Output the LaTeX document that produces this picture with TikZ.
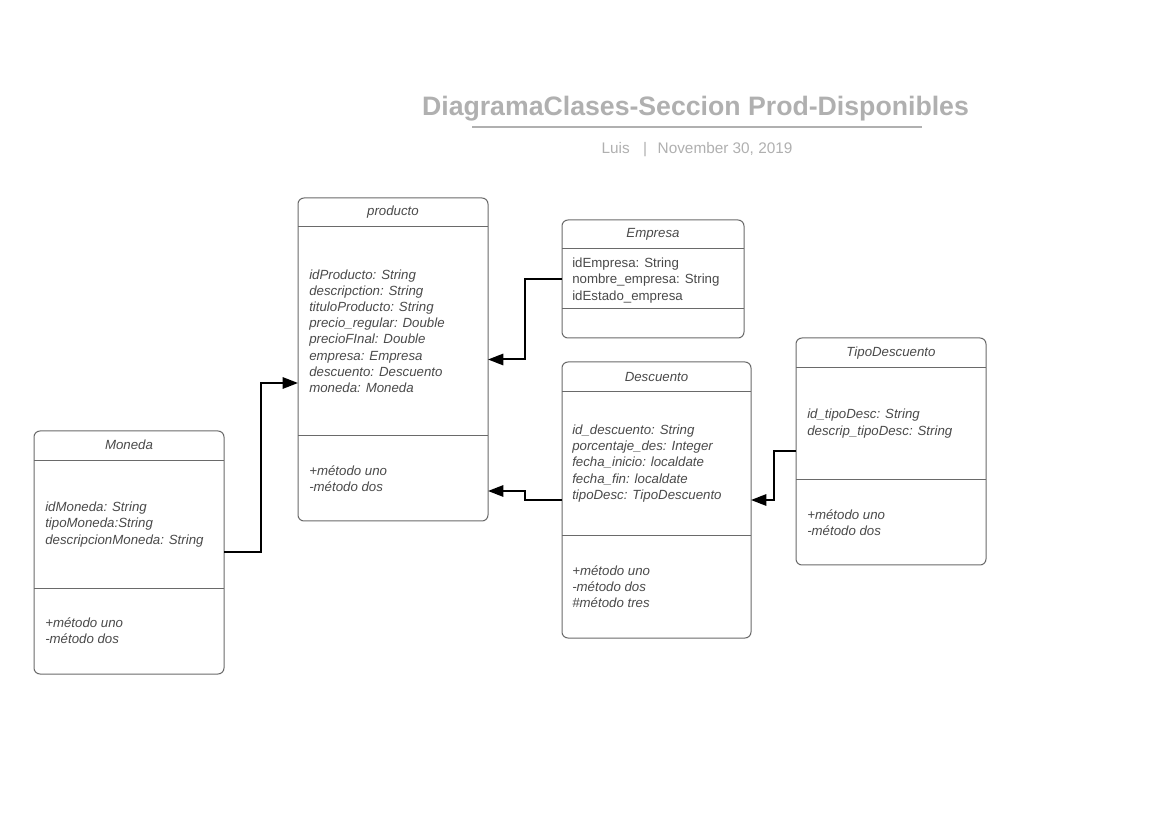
\documentclass[tikz,border=0pt]{standalone}
\usepackage{fontspec}
\setmainfont{Liberation Sans}
\usetikzlibrary{arrows.meta,calc}
\definecolor{boxline}{HTML}{6A6A6A}
\definecolor{txt}{HTML}{4A4A4A}
\definecolor{ttl}{HTML}{B0B0B0}
\tikzset{
  umlbox/.style={draw=boxline, line width=0.75pt, rounded corners=4.5pt, anchor=north west, inner sep=0pt, outer sep=0pt},
  divider/.style={draw=boxline, line width=0.75pt},
  cname/.style={font=\fontsize{9.95}{12.15}\selectfont\itshape, text=txt, inner sep=0pt},
  attrs/.style={font=\fontsize{9.95}{12.15}\selectfont\itshape, text=txt, align=left, anchor=west, inner sep=0pt},
  attrsup/.style={font=\fontsize{9.95}{12.15}\selectfont, text=txt, align=left, anchor=west, inner sep=0pt},
  conn/.style={draw=black, line width=1.5pt, -{Triangle[length=11.5pt,width=8.5pt]}},
}
\begin{document}
\begin{tikzpicture}[x=0.75pt, y=-0.75pt]
\useasboundingbox[fill=white] (0,0) rectangle (1154,830);

% title
\node[font=\fontsize{20}{24}\selectfont\bfseries, text=ttl, inner sep=0pt] (title) at (695.5,109) {DiagramaClases-Seccion Prod-Disponibles};
\coordinate (tl1) at (472,127);
\coordinate (tl2) at (922,127);
\draw[ttl, line width=1.5pt] (tl1) -- (tl2);
\node[font=\fontsize{11.5}{13}\selectfont, text=ttl, inner sep=0pt] (subtitle) at (697,150) {Luis\hspace{10pt}|\hspace{8pt}November 30, 2019};

% producto
\node[umlbox, minimum width=142.5pt, minimum height=242.25pt] (prod) at (298,198) {};
\draw[divider] ($(prod.north west)+(0,29)$) -- ($(prod.north east)+(0,29)$);
\draw[divider] ($(prod.north west)+(0,238)$) -- ($(prod.north east)+(0,238)$);
\node[cname] (prodT) at ($(prod.north)+(0,14)$) {producto};
\node[attrs] (prodA) at ($(prod.north west)+(11,133)$) {idProducto: String\\descripction: String\\tituloProducto: String\\precio\_regular: Double\\precioFInal: Double\\empresa: Empresa\\descuento: Descuento\\moneda: Moneda};
\node[attrs] (prodM) at ($(prod.north west)+(11,280.5)$) {+método uno\\-método dos};

% Empresa
\node[umlbox, minimum width=136.5pt, minimum height=88.5pt] (emp) at (562,220) {};
\draw[divider] ($(emp.north west)+(0,29)$) -- ($(emp.north east)+(0,29)$);
\draw[divider] ($(emp.north west)+(0,89)$) -- ($(emp.north east)+(0,89)$);
\node[cname] (empT) at ($(emp.north)+(0,14)$) {Empresa};
\node[attrsup] (empA) at ($(emp.north west)+(10,60.5)$) {idEmpresa: String\\nombre\_empresa: String\\idEstado\_empresa};

% Descuento
\node[umlbox, minimum width=141.75pt, minimum height=207pt] (desc) at (562,362) {};
\draw[divider] ($(desc.north west)+(0,30)$) -- ($(desc.north east)+(0,30)$);
\draw[divider] ($(desc.north west)+(0,174)$) -- ($(desc.north east)+(0,174)$);
\node[cname] (descT) at ($(desc.north)+(0,15)$) {Descuento};
\node[attrs] (descA) at ($(desc.north west)+(10,101.5)$) {id\_descuento: String\\porcentaje\_des: Integer\\fecha\_inicio: localdate\\fecha\_fin: localdate\\tipoDesc: TipoDescuento};
\node[attrs] (descM) at ($(desc.north west)+(10,224.5)$) {+método uno\\-método dos\\\#método tres};

% TipoDescuento
\node[umlbox, minimum width=142.5pt, minimum height=170.25pt] (tipo) at (796,338) {};
\draw[divider] ($(tipo.north west)+(0,30)$) -- ($(tipo.north east)+(0,30)$);
\draw[divider] ($(tipo.north west)+(0,142)$) -- ($(tipo.north east)+(0,142)$);
\node[cname] (tipoT) at ($(tipo.north)+(0,15)$) {TipoDescuento};
\node[attrs] (tipoA) at ($(tipo.north west)+(11,85.5)$) {id\_tipoDesc: String\\descrip\_tipoDesc: String};
\node[attrs] (tipoM) at ($(tipo.north west)+(11,184.5)$) {+método uno\\-método dos};

% Moneda
\node[umlbox, minimum width=142.5pt, minimum height=182.25pt] (mon) at (34,431) {};
\draw[divider] ($(mon.north west)+(0,30)$) -- ($(mon.north east)+(0,30)$);
\draw[divider] ($(mon.north west)+(0,158)$) -- ($(mon.north east)+(0,158)$);
\node[cname] (monT) at ($(mon.north)+(0,14)$) {Moneda};
\node[attrs] (monA) at ($(mon.north west)+(11,93.5)$) {idMoneda: String\\tipoMoneda:String\\descripcionMoneda: String};
\node[attrs] (monM) at ($(mon.north west)+(11,199.5)$) {+método uno\\-método dos};

% connectors
\coordinate (p2) at ($(prod.south east)+(0,-30)$);
\coordinate (p4) at ($(prod.north west)+(0,185)$);
\draw[conn] (emp.west) -- ++(-37,0) |- (prod.east);
\draw[conn] (desc.west) -- ++(-37,0) |- (p2);
\draw[conn] (tipo.west) -- ++(-22,0) |- (desc.east);
\draw[conn] (mon.east) -- ++(37,0) |- (p4);
\end{tikzpicture}
\end{document}
